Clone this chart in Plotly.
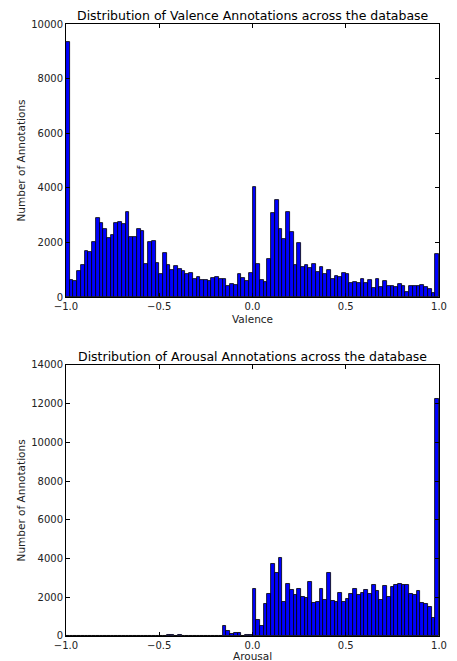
import plotly.graph_objects as go

# ---- data (histogram counts, 100 bins of width 0.02 over [-1, 1]) ----
bin_width = 0.02
bin_start = -1.0

valence_counts = [
    9350, 620, 584, 950, 1180, 1680, 1655, 2000, 2900, 2700,
    2480, 2150, 2280, 2715, 2760, 2665, 3130, 2190, 2215, 2505,
    2435, 1230, 2010, 2070, 1265, 830, 1620, 1190, 1000, 1155,
    1035, 950, 830, 875, 680, 720, 610, 630, 600, 695,
    730, 645, 670, 400, 475, 450, 840, 695, 585, 890,
    4030, 1230, 620, 570, 1390, 3065, 3565, 2505, 2130, 3130,
    2400, 1190, 1970, 1085, 1190, 1060, 1230, 925, 1085, 840,
    1000, 655, 755, 720, 865, 840, 510, 570, 535, 680,
    535, 620, 330, 655, 375, 595, 390, 390, 365, 475,
    425, 205, 400, 400, 400, 440, 365, 290, 160, 1595,
]

arousal_counts = [
    0, 0, 0, 0, 0, 0, 30, 0, 0, 0,
    0, 0, 0, 0, 0, 0, 0, 0, 0, 0,
    0, 0, 0, 10, 15, 0, 0, 60, 60, 15,
    50, 20, 10, 15, 10, 15, 20, 10, 30, 20,
    20, 20, 515, 258, 86, 137, 137, 17, 34, 50,
    2425, 825, 533, 1634, 2167, 3715, 3268, 4025, 1737, 2700,
    2356, 2098, 2425, 2012, 1944, 2770, 1686, 1772, 2425, 1858,
    3234, 1806, 1737, 2219, 1780, 1909, 2200, 2425, 2098, 2236,
    2373, 2200, 2631, 2339, 1858, 2597, 2030, 2511, 2631, 2683,
    2649, 2631, 2150, 2098, 2339, 1686, 1651, 1479, 911, 12270,
]

x_tick_vals = [-1.0, -0.5, 0.0, 0.5, 1.0]
x_tick_text = ["\u22121.0", "\u22120.5", "0.0", "0.5", "1.0"]
valence_y_ticks = [0, 2000, 4000, 6000, 8000, 10000]
arousal_y_ticks = [0, 2000, 4000, 6000, 8000, 10000, 12000, 14000]

titles = ["Distribution of Valence Annotations across the database",
          "Distribution of Arousal Annotations across the database"]
x_labels = ["Valence", "Arousal"]
y_label = "Number of Annotations"

# ---- figure ----
# The page body has an 8px default margin, so the figure is 8px smaller and
# all positions below are given in screen pixels and shifted by OFF.
OFF = 8
W, H = 457 - OFF, 661 - OFF
ml, mr, mt, mb = 66 - OFF, 10, 22 - OFF, 25
ph = H - mt - mb

def py(y_screen):
    return (H - mb - (y_screen - OFF)) / ph

def px(x_screen):
    return ((x_screen - OFF) - ml) / (W - ml - mr)

centers = [bin_start + bin_width * (i + 0.5) for i in range(len(valence_counts))]

FONT = "DejaVu Sans"
fig = go.Figure()
bar_style = dict(marker=dict(color="#0000FF", line=dict(color="black", width=0.8)),
                 width=bin_width, showlegend=False, hoverinfo="x+y")
fig.add_trace(go.Bar(x=centers, y=valence_counts, xaxis="x", yaxis="y", **bar_style))
fig.add_trace(go.Bar(x=centers, y=arousal_counts, xaxis="x2", yaxis="y2", **bar_style))

axis_common = dict(showline=True, linecolor="black", linewidth=1, mirror="ticks",
                   ticks="inside", ticklen=4, tickcolor="black", showgrid=False,
                   zeroline=False, ticklabeloverflow="allow",
                   tickfont=dict(family=FONT, size=10, color="#222"))

fig.update_layout(
    width=W, height=H,
    margin=dict(l=ml, r=mr, t=mt, b=mb),
    paper_bgcolor="white", plot_bgcolor="white",
    bargap=0,
    font=dict(family=FONT, size=10, color="#222"),
    xaxis=dict(domain=[0, 1], anchor="y", range=[-1, 1],
               tickvals=x_tick_vals, ticktext=x_tick_text, **axis_common),
    yaxis=dict(domain=[py(296), 1], anchor="x", range=[0, 10000],
               tickvals=valence_y_ticks, ticktext=[str(v) for v in valence_y_ticks],
               **axis_common),
    xaxis2=dict(domain=[0, 1], anchor="y2", range=[-1, 1],
                tickvals=x_tick_vals, ticktext=x_tick_text, **axis_common),
    yaxis2=dict(domain=[0, py(364)], anchor="x2", range=[0, 14000],
                tickvals=arousal_y_ticks, ticktext=[str(v) for v in arousal_y_ticks],
                **axis_common),
)

ann = []
for title, yc in zip(titles, [13.5, 355.5]):
    ann.append(dict(text=title, x=0.5, y=py(yc), xref="paper", yref="paper",
                    xanchor="center", yanchor="middle", showarrow=False, borderpad=0,
                    font=dict(family=FONT, size=12.5, color="black")))
for lab, yc in zip(x_labels, [318, 656]):
    ann.append(dict(text=lab, x=0.5, y=py(yc), xref="paper", yref="paper",
                    xanchor="center", yanchor="middle", showarrow=False, borderpad=0,
                    font=dict(family=FONT, size=10.5, color="#222")))
for yc in [159, 500]:
    ann.append(dict(text=y_label, x=px(20), y=py(yc),
                    xref="paper", yref="paper", xanchor="center", yanchor="middle",
                    textangle=-90, showarrow=False, borderpad=0,
                    font=dict(family=FONT, size=10.5, color="#222")))
fig.update_layout(annotations=ann)

fig.write_html("out.html")
